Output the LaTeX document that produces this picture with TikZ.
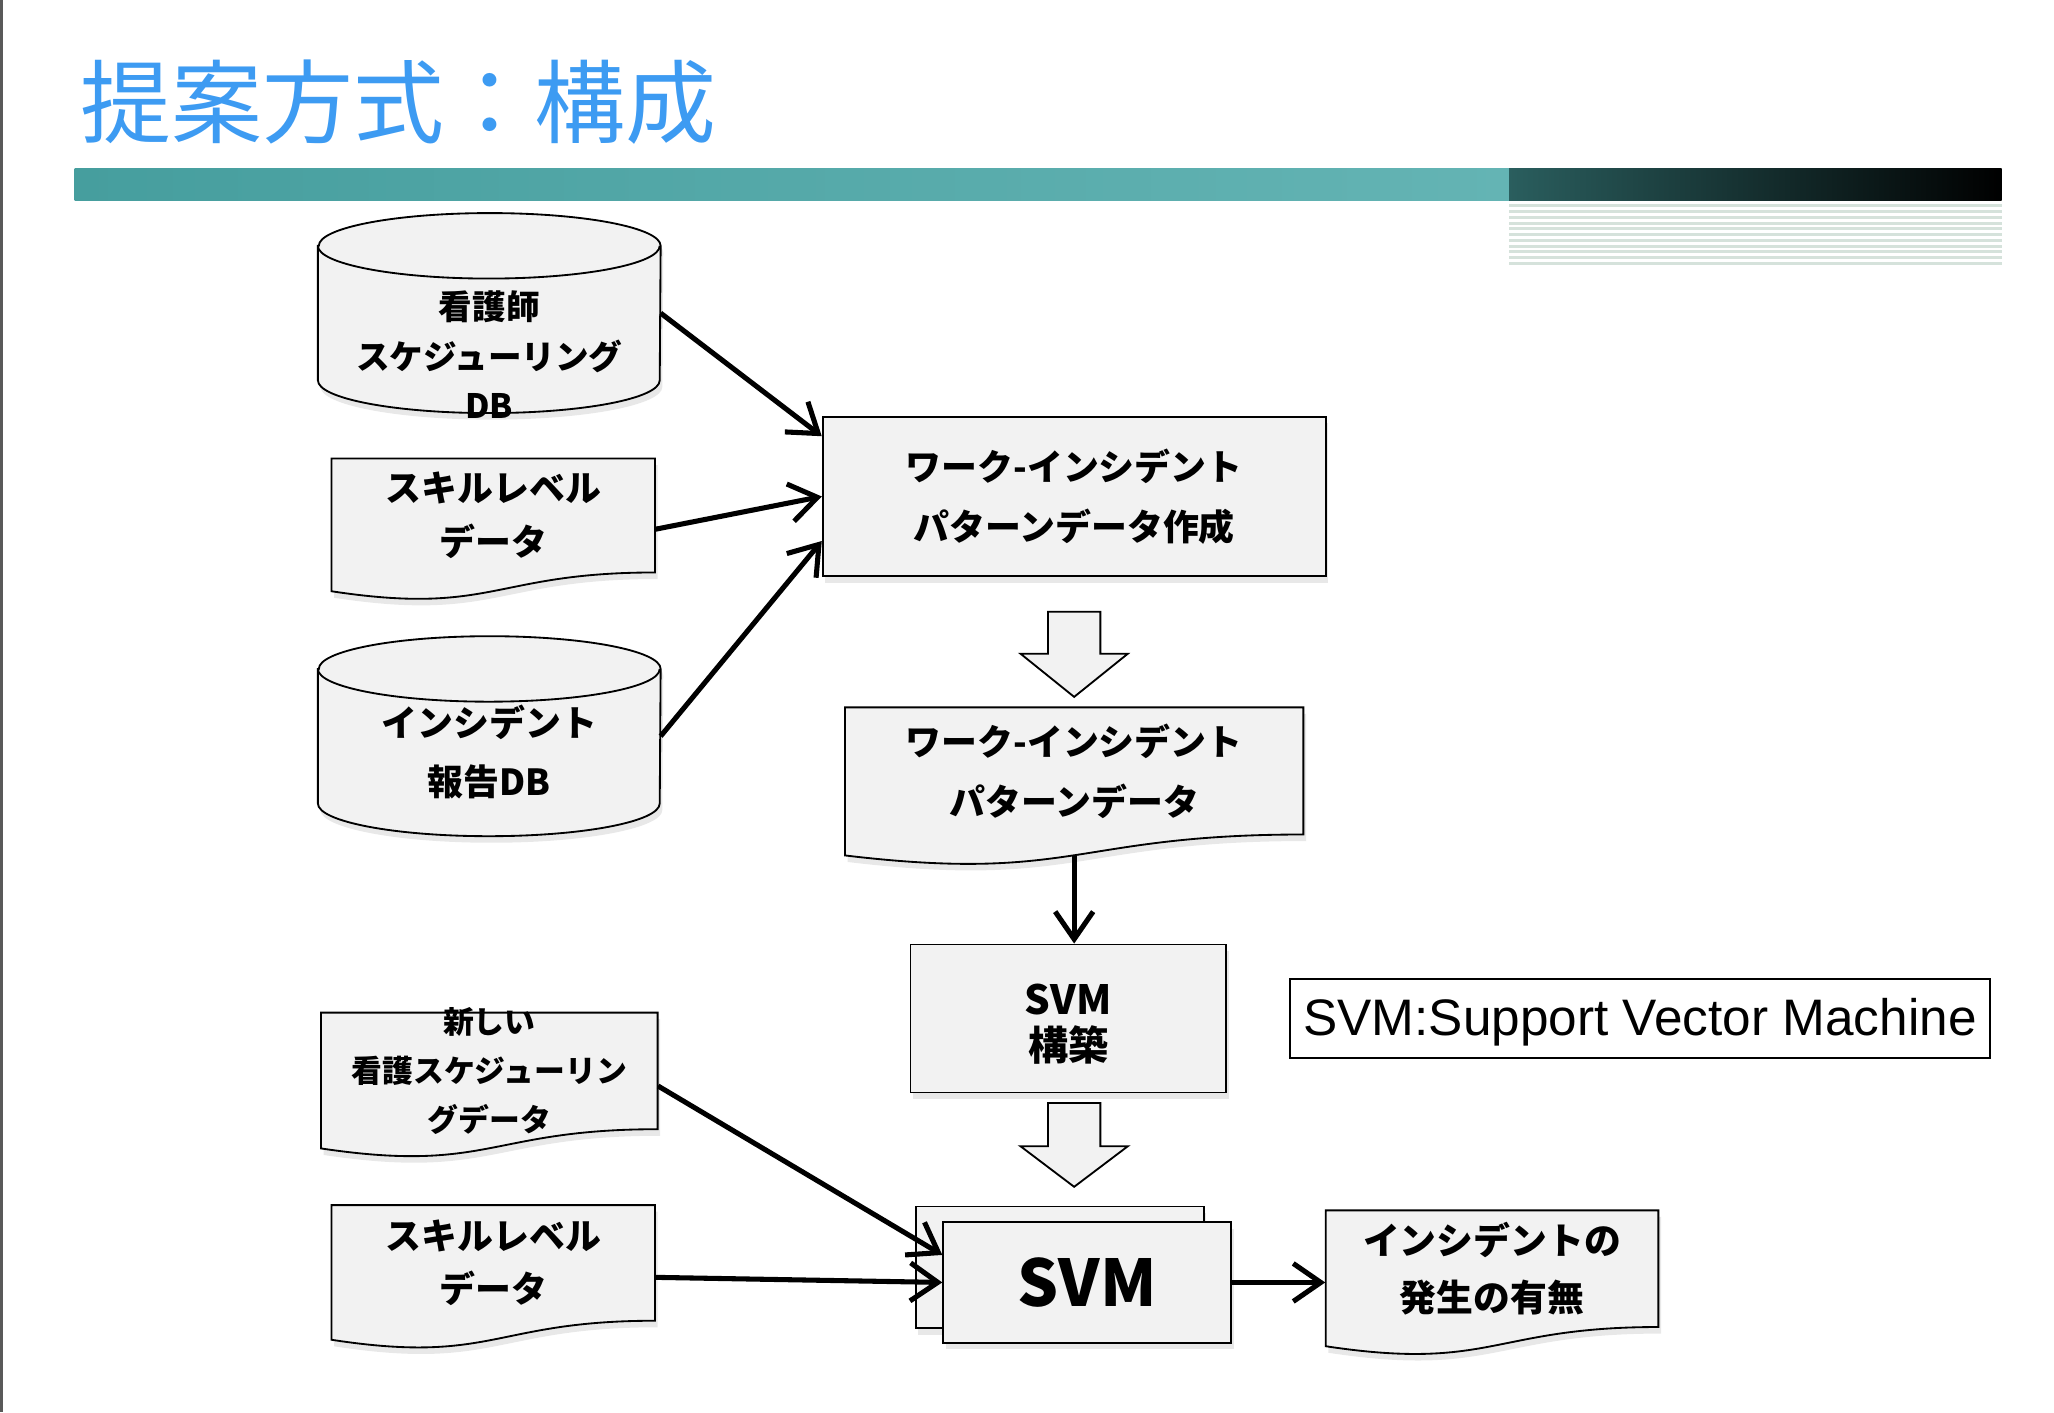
\documentclass[tikz,border=0pt]{standalone}
\usepackage{fontspec}
\setmainfont{Noto Sans CJK JP}
\newfontfamily\legendfont{Liberation Sans}
\usepackage{tikz}
\usetikzlibrary{arrows.meta,calc,shadows}

\definecolor{titleblue}{HTML}{3D9BF2}
\definecolor{barleft}{HTML}{469E9E}
\definecolor{barmid}{HTML}{64B4B4}
\definecolor{bardark}{HTML}{2A5E5E}
\definecolor{stripe}{HTML}{D5E2DB}

\newcommand{\jpsize}[2]{\fontsize{#1}{#2}\selectfont\bfseries}

% document shape: name, x, y, width, height, font, text
\newcommand{\docnode}[7]{%
  \filldraw[docshape] (#2,#3) -- ++(#4,0) -- ++(0,0.802*#5)
    .. controls (#2+0.5*#4,#3+0.802*#5) and (#2+0.5*#4,#3+1.1075*#5) .. (#2,#3+0.934*#5) -- cycle;
  \node[doctext, minimum width=0.02cm*#4, minimum height=0.02cm*0.802*#5, font=#6] (#1) at (#2+0.5*#4,#3+0.401*#5) {#7};
  \coordinate (#1-wave) at (#2+0.5*#4,#3+0.933*#5);
}

% database drum around a named box
\newcommand{\dbdrum}[1]{%
  \filldraw[dbshape] ([yshift=-0.5cm]#1.north west) -- ([yshift=0.5cm]#1.south west)
    arc[start angle=180, end angle=360, x radius=2.61cm, y radius=0.5cm]
    -- ([yshift=-0.5cm]#1.north east)
    arc[start angle=0, end angle=180, x radius=2.61cm, y radius=0.5cm] -- cycle;
  \draw[line width=0.8pt] ([yshift=-0.5cm]#1.north west)
    arc[start angle=180, end angle=360, x radius=2.61cm, y radius=0.5cm];
}

\begin{document}
\begin{tikzpicture}[
    x=0.02cm, y=-0.02cm,
    >={Straight Barb[length=0.42cm,width=0.58cm]},
    softshadow/.style={drop shadow={opacity=0.18, shadow xshift=0.04cm, shadow yshift=-0.1cm}},
    database/.style={
      rectangle,
      minimum width=5.22cm,
      minimum height=3.04cm,
      inner sep=0
    },
    dbshape/.style={fill=black!5, line width=0.8pt, softshadow},
    dbtext/.style={align=center, inner sep=0},
    box/.style={
      rectangle,
      inner sep=0,
      align=center,
      fill=black!5,
      line width=0.8pt,
      softshadow,
      draw
    },
    docshape/.style={fill=black!5, line width=0.8pt, softshadow},
    doctext/.style={rectangle, inner sep=0, align=center},
    blockarrow/.style={fill=black!5, line width=0.8pt, line join=miter},
  ]

  %%%%%%%%%%%%%%%%%%%%%%%%%%%%%%%%%%%%%%%%%%%%%%
  %%%%%%%%%%%%%%%% SLIDE FRAME %%%%%%%%%%%%%%%%%%%
  %%%%%%%%%%%%%%%%%%%%%%%%%%%%%%%%%%%%%%%%%%%%%%
    \useasboundingbox (0,0) rectangle (1568,1078);
    \draw[black!65, line width=1.2pt] (1,0) -- (1,1078);

    \node[anchor=west, inner sep=0, text=titleblue, font=\fontsize{39.5}{44}\selectfont] (title) at (61,78) {提案方式：構成};

    \shade[left color=barleft, right color=barmid] (57,129) rectangle (1152,153);
    \shade[left color=bardark, right color=black] (1152,129) rectangle (1528,153);
    \foreach \i in {0,...,10}
      \fill[stripe] (1152,156+4.4*\i) rectangle (1528,158.2+4.4*\i);

  %%%%%%%%%%%%%%%%%%%%%%%%%%%%%%%%%%%%%%%%%%%%%%
  %%%%%%%%%%%%%%%% ACTUAL NODES %%%%%%%%%%%%%%%%%%%
  %%%%%%%%%%%%%%%%%%%%%%%%%%%%%%%%%%%%%%%%%%%%%%
    \node[database] (nursedb) at (373.5,239) {};
    \dbdrum{nursedb}
    \node[dbtext, font=\jpsize{14.6}{21.5}] (nursedb-text) at (373.5,271) {看護師\\スケジューリング\\DB};

    \docnode{skill}{253}{350}{247}{108.5}{\jpsize{15.6}{23.3}}{スキルレベル\\データ}

    \node[database] (incidentdb) at (373.5,562) {};
    \dbdrum{incidentdb}
    \node[dbtext, font=\jpsize{15.6}{25.6}] (incidentdb-text) at (373.5,574) {インシデント\\報告DB};

    \node[box, minimum width=7.68cm, minimum height=2.44cm, font=\jpsize{15.6}{26}] (patternmake) at (820,379) {ワーク-インシデント\\パターンデータ作成};

    \draw[blockarrow] (800,467) -- (840,467) -- (840,499) -- (861,499) -- (820,532) -- (779,499) -- (800,499) -- cycle;

    \docnode{patterndata}{645}{540}{350}{121}{\jpsize{15.6}{26}}{ワーク-インシデント\\パターンデータ}

    \node[box, minimum width=4.82cm, minimum height=2.26cm, font=\jpsize{17.5}{20}] (svmbuild) at (815.5,777.5) {\raisebox{-0.08cm}[\height][\depth]{\parbox{3cm}{\centering SVM\\構築}}};

    \node[draw, fill=white, line width=0.9pt, minimum width=10.68cm, minimum height=1.22cm, inner sep=0,
          font=\legendfont\fontsize{22.3}{26}\selectfont] (legend) at (1252,777.5) {\raisebox{-0.06cm}[\height][\depth]{SVM:Support Vector Machine}};

    \draw[blockarrow] (800,842) -- (840,842) -- (840,875) -- (861,875) -- (820,906) -- (779,875) -- (800,875) -- cycle;

    \docnode{newsched}{245}{773}{257}{111}{\jpsize{13.4}{21.3}}{新しい\\看護スケジューリン\\グデータ}
    \docnode{newskill}{253}{920}{247}{110}{\jpsize{15.6}{23.3}}{スキルレベル\\データ}

    \node[box, minimum width=4.4cm, minimum height=1.86cm] (svmback) at (809,967.5) {};
    \node[box, minimum width=4.4cm, minimum height=1.84cm, font=\jpsize{28}{32}] (svm) at (830,979) {SVM};

    \docnode{result}{1012}{924}{254}{111}{\jpsize{16}{25}}{インシデントの\\発生の有無}

  %%%%%%%%%%%%%%%%%%%%%%%%%%%%%%%%%%%%%%%%%%%%%%
  %%%%%%%%%%%%%%%%%% PATHS %%%%%%%%%%%%%%%%%%%%%%%
  %%%%%%%%%%%%%%%%%%%%%%%%%%%%%%%%%%%%%%%%%%%%%%
    \path [->, draw, line width = 2.2pt] (nursedb.east) -- ([yshift=0.92cm]patternmake.west);
    \path [->, draw, line width = 2.2pt] ([yshift=-0.21cm]skill.east) -- (patternmake.west);
    \path [->, draw, line width = 2.2pt] (incidentdb.east) -- ([yshift=-0.68cm]patternmake.west);

    \path [->, draw, line width = 2.2pt] (patterndata-wave) -- (patterndata-wave |- svmbuild.north);

    \path [->, draw, line width = 2.2pt] ([yshift=-0.23cm]newsched.east) -- ([yshift=0.42cm]svm.west);
    \path [->, draw, line width = 2.2pt] ([yshift=-0.22cm]newskill.east) -- (svm.west);
    \path [->, draw, line width = 2.2pt] (svm.east) -- (svm.east -| result.west);

\end{tikzpicture}
\end{document}
